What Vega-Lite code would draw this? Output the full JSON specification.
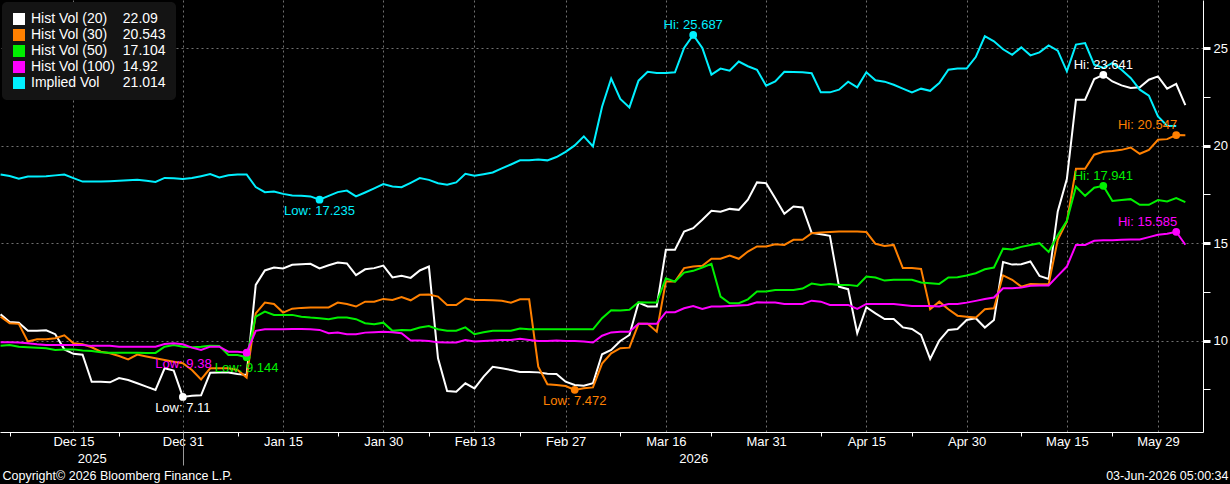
{
  "$schema": "https://vega.github.io/schema/vega-lite/v6.json",
  "width": 1203,
  "height": 432,
  "autosize": {"type": "none"},
  "padding": {"left": 0, "top": 0, "right": 27, "bottom": 52},
  "background": "#000000",
  "config": {
    "view": {"stroke": null},
    "font": "Liberation Sans",
    "axis": {"labelFont": "Liberation Sans", "titleFont": "Liberation Sans", "labelColor": "#ffffff", "titleColor": "#ffffff", "labelFontSize": 13},
    "legend": {"labelFont": "Liberation Sans"},
    "text": {"font": "Liberation Sans", "fontSize": 13}
  },
  "datasets": {
    "vol": [
      {"d":"2025-12-03","h20":11.35,"h30":11.23,"h50":9.74,"h100":9.91,"iv":18.53},
      {"d":"2025-12-04","h20":10.96,"h30":10.89,"h50":9.78,"h100":9.91,"iv":18.45},
      {"d":"2025-12-05","h20":10.92,"h30":10.86,"h50":9.69,"h100":9.90,"iv":18.31},
      {"d":"2025-12-08","h20":10.50,"h30":9.95,"h50":9.66,"h100":9.86,"iv":18.42},
      {"d":"2025-12-09","h20":10.50,"h30":10.07,"h50":9.64,"h100":9.81,"iv":18.42},
      {"d":"2025-12-10","h20":10.53,"h30":10.07,"h50":9.61,"h100":9.78,"iv":18.43},
      {"d":"2025-12-11","h20":10.33,"h30":10.12,"h50":9.52,"h100":9.78,"iv":18.48},
      {"d":"2025-12-12","h20":9.55,"h30":10.27,"h50":9.55,"h100":9.78,"iv":18.52},
      {"d":"2025-12-15","h20":9.32,"h30":9.86,"h50":9.55,"h100":9.78,"iv":18.34},
      {"d":"2025-12-16","h20":9.28,"h30":9.81,"h50":9.49,"h100":9.78,"iv":18.16},
      {"d":"2025-12-17","h20":7.89,"h30":9.66,"h50":9.47,"h100":9.73,"iv":18.17},
      {"d":"2025-12-18","h20":7.89,"h30":9.43,"h50":9.40,"h100":9.73,"iv":18.17},
      {"d":"2025-12-19","h20":7.86,"h30":9.35,"h50":9.38,"h100":9.73,"iv":18.18},
      {"d":"2025-12-22","h20":8.08,"h30":9.21,"h50":9.38,"h100":9.69,"iv":18.20},
      {"d":"2025-12-23","h20":7.98,"h30":9.04,"h50":9.38,"h100":9.69,"iv":18.23},
      {"d":"2025-12-24","h20":7.81,"h30":9.28,"h50":9.38,"h100":9.69,"iv":18.25},
      {"d":"2025-12-25","h20":7.64,"h30":9.18,"h50":9.37,"h100":9.69,"iv":18.20},
      {"d":"2025-12-26","h20":7.47,"h30":9.09,"h50":9.37,"h100":9.69,"iv":18.14},
      {"d":"2025-12-29","h20":8.58,"h30":9.01,"h50":9.69,"h100":9.83,"iv":18.35},
      {"d":"2025-12-30","h20":8.46,"h30":8.92,"h50":9.78,"h100":9.86,"iv":18.33},
      {"d":"2025-12-31","h20":7.11,"h30":8.84,"h50":9.69,"h100":9.81,"iv":18.29},
      {"d":"2026-01-01","h20":7.17,"h30":8.49,"h50":9.66,"h100":9.64,"iv":18.34},
      {"d":"2026-01-02","h20":7.19,"h30":8.01,"h50":9.69,"h100":9.52,"iv":18.44},
      {"d":"2026-01-05","h20":8.35,"h30":8.58,"h50":9.74,"h100":9.69,"iv":18.55},
      {"d":"2026-01-06","h20":8.36,"h30":8.58,"h50":9.73,"h100":9.69,"iv":18.37},
      {"d":"2026-01-07","h20":8.36,"h30":8.58,"h50":9.26,"h100":9.43,"iv":18.49},
      {"d":"2026-01-08","h20":8.29,"h30":8.49,"h50":9.26,"h100":9.43,"iv":18.53},
      {"d":"2026-01-09","h20":8.24,"h30":8.10,"h50":9.144,"h100":9.38,"iv":18.53},
      {"d":"2026-01-12","h20":12.86,"h30":11.40,"h50":11.23,"h100":10.50,"iv":17.88},
      {"d":"2026-01-13","h20":13.60,"h30":11.95,"h50":11.49,"h100":10.58,"iv":17.62},
      {"d":"2026-01-14","h20":13.75,"h30":11.88,"h50":11.32,"h100":10.58,"iv":17.65},
      {"d":"2026-01-15","h20":13.70,"h30":11.44,"h50":11.32,"h100":10.58,"iv":17.53},
      {"d":"2026-01-16","h20":13.89,"h30":11.64,"h50":11.32,"h100":10.60,"iv":17.45},
      {"d":"2026-01-19","h20":13.92,"h30":11.68,"h50":11.23,"h100":10.60,"iv":17.43},
      {"d":"2026-01-20","h20":13.94,"h30":11.70,"h50":11.18,"h100":10.58,"iv":17.40},
      {"d":"2026-01-21","h20":13.70,"h30":11.70,"h50":11.15,"h100":10.55,"iv":17.235},
      {"d":"2026-01-22","h20":13.87,"h30":11.70,"h50":11.10,"h100":10.38,"iv":17.43},
      {"d":"2026-01-23","h20":14.01,"h30":11.95,"h50":11.18,"h100":10.41,"iv":17.62},
      {"d":"2026-01-26","h20":13.96,"h30":11.88,"h50":11.18,"h100":10.33,"iv":17.70},
      {"d":"2026-01-27","h20":13.36,"h30":11.75,"h50":11.10,"h100":10.33,"iv":17.40},
      {"d":"2026-01-28","h20":13.66,"h30":12.00,"h50":10.89,"h100":10.41,"iv":17.60},
      {"d":"2026-01-29","h20":13.72,"h30":12.00,"h50":10.84,"h100":10.43,"iv":17.81},
      {"d":"2026-01-30","h20":13.85,"h30":12.14,"h50":10.92,"h100":10.46,"iv":18.03},
      {"d":"2026-02-02","h20":13.24,"h30":12.09,"h50":10.50,"h100":10.43,"iv":17.91},
      {"d":"2026-02-03","h20":13.33,"h30":12.24,"h50":10.55,"h100":10.38,"iv":17.87},
      {"d":"2026-02-04","h20":13.22,"h30":12.07,"h50":10.53,"h100":10.00,"iv":18.10},
      {"d":"2026-02-05","h20":13.60,"h30":12.35,"h50":10.67,"h100":10.00,"iv":18.34},
      {"d":"2026-02-06","h20":13.80,"h30":12.36,"h50":10.75,"h100":9.98,"iv":18.25},
      {"d":"2026-02-09","h20":9.09,"h30":12.26,"h50":10.58,"h100":9.91,"iv":18.08},
      {"d":"2026-02-10","h20":7.41,"h30":11.83,"h50":10.51,"h100":9.90,"iv":18.00},
      {"d":"2026-02-11","h20":7.38,"h30":11.83,"h50":10.51,"h100":9.90,"iv":18.12},
      {"d":"2026-02-12","h20":7.81,"h30":12.16,"h50":10.68,"h100":10.03,"iv":18.56},
      {"d":"2026-02-13","h20":7.55,"h30":12.09,"h50":10.33,"h100":9.95,"iv":18.46},
      {"d":"2026-02-16","h20":8.15,"h30":12.09,"h50":10.43,"h100":9.98,"iv":18.54},
      {"d":"2026-02-17","h20":8.66,"h30":12.07,"h50":10.51,"h100":10.00,"iv":18.63},
      {"d":"2026-02-18","h20":8.58,"h30":12.05,"h50":10.51,"h100":10.03,"iv":18.84},
      {"d":"2026-02-19","h20":8.49,"h30":11.95,"h50":10.51,"h100":10.03,"iv":19.04},
      {"d":"2026-02-20","h20":8.39,"h30":12.12,"h50":10.62,"h100":10.09,"iv":19.25},
      {"d":"2026-02-23","h20":8.39,"h30":12.12,"h50":10.58,"h100":10.03,"iv":19.25},
      {"d":"2026-02-24","h20":8.37,"h30":8.66,"h50":10.58,"h100":9.98,"iv":19.30},
      {"d":"2026-02-25","h20":8.30,"h30":7.76,"h50":10.58,"h100":9.98,"iv":19.25},
      {"d":"2026-02-26","h20":8.29,"h30":7.72,"h50":10.58,"h100":10.00,"iv":19.42},
      {"d":"2026-02-27","h20":7.89,"h30":7.67,"h50":10.58,"h100":9.98,"iv":19.69},
      {"d":"2026-03-02","h20":7.72,"h30":7.472,"h50":10.58,"h100":9.98,"iv":20.02},
      {"d":"2026-03-03","h20":7.69,"h30":7.55,"h50":10.58,"h100":9.95,"iv":20.48},
      {"d":"2026-03-04","h20":7.81,"h30":7.60,"h50":10.58,"h100":9.90,"iv":19.97},
      {"d":"2026-03-05","h20":9.30,"h30":8.82,"h50":11.15,"h100":10.25,"iv":22.00},
      {"d":"2026-03-06","h20":9.52,"h30":9.35,"h50":11.56,"h100":10.42,"iv":23.45},
      {"d":"2026-03-09","h20":9.98,"h30":9.61,"h50":11.54,"h100":10.45,"iv":22.40},
      {"d":"2026-03-10","h20":10.29,"h30":9.64,"h50":11.58,"h100":10.46,"iv":21.97},
      {"d":"2026-03-11","h20":11.95,"h30":10.86,"h50":11.97,"h100":10.86,"iv":23.34},
      {"d":"2026-03-12","h20":11.75,"h30":10.86,"h50":11.95,"h100":10.86,"iv":23.80},
      {"d":"2026-03-13","h20":11.75,"h30":10.46,"h50":11.95,"h100":10.86,"iv":23.73},
      {"d":"2026-03-16","h20":14.66,"h30":13.03,"h50":13.20,"h100":11.46,"iv":23.73},
      {"d":"2026-03-17","h20":14.66,"h30":13.03,"h50":13.03,"h100":11.46,"iv":23.77},
      {"d":"2026-03-18","h20":15.60,"h30":13.72,"h50":13.49,"h100":11.66,"iv":25.02},
      {"d":"2026-03-19","h20":15.77,"h30":13.80,"h50":13.58,"h100":11.78,"iv":25.687},
      {"d":"2026-03-20","h20":16.20,"h30":13.84,"h50":13.75,"h100":11.63,"iv":25.02},
      {"d":"2026-03-23","h20":16.66,"h30":14.20,"h50":13.94,"h100":11.75,"iv":23.65},
      {"d":"2026-03-24","h20":16.61,"h30":14.20,"h50":12.26,"h100":11.75,"iv":23.96},
      {"d":"2026-03-25","h20":16.76,"h30":14.37,"h50":11.92,"h100":11.78,"iv":23.85},
      {"d":"2026-03-26","h20":16.71,"h30":14.20,"h50":11.92,"h100":11.80,"iv":24.32},
      {"d":"2026-03-27","h20":17.23,"h30":14.57,"h50":12.12,"h100":11.83,"iv":24.08},
      {"d":"2026-03-30","h20":18.12,"h30":14.83,"h50":12.52,"h100":11.97,"iv":23.90},
      {"d":"2026-03-31","h20":18.08,"h30":14.83,"h50":12.52,"h100":11.95,"iv":23.08},
      {"d":"2026-04-01","h20":17.31,"h30":14.95,"h50":12.60,"h100":11.95,"iv":23.30},
      {"d":"2026-04-02","h20":16.51,"h30":14.91,"h50":12.60,"h100":11.88,"iv":23.80},
      {"d":"2026-04-03","h20":16.88,"h30":15.17,"h50":12.60,"h100":11.88,"iv":23.78},
      {"d":"2026-04-06","h20":16.83,"h30":15.17,"h50":12.67,"h100":11.88,"iv":23.77},
      {"d":"2026-04-07","h20":15.53,"h30":15.51,"h50":12.93,"h100":12.05,"iv":23.72},
      {"d":"2026-04-08","h20":15.46,"h30":15.55,"h50":12.86,"h100":12.00,"iv":22.74},
      {"d":"2026-04-09","h20":15.38,"h30":15.57,"h50":12.91,"h100":11.83,"iv":22.74},
      {"d":"2026-04-10","h20":12.77,"h30":15.60,"h50":12.86,"h100":11.83,"iv":22.88},
      {"d":"2026-04-13","h20":12.64,"h30":15.60,"h50":12.86,"h100":11.83,"iv":23.29},
      {"d":"2026-04-14","h20":10.38,"h30":15.60,"h50":12.80,"h100":11.63,"iv":23.00},
      {"d":"2026-04-15","h20":11.71,"h30":15.57,"h50":13.29,"h100":11.88,"iv":23.77},
      {"d":"2026-04-16","h20":11.40,"h30":14.97,"h50":13.24,"h100":11.88,"iv":23.36},
      {"d":"2026-04-17","h20":11.11,"h30":14.86,"h50":13.08,"h100":11.88,"iv":23.29},
      {"d":"2026-04-20","h20":11.11,"h30":14.91,"h50":13.12,"h100":11.88,"iv":23.13},
      {"d":"2026-04-21","h20":10.68,"h30":13.72,"h50":13.12,"h100":11.83,"iv":22.93},
      {"d":"2026-04-22","h20":10.60,"h30":13.72,"h50":13.12,"h100":11.78,"iv":22.74},
      {"d":"2026-04-23","h20":10.29,"h30":13.68,"h50":12.98,"h100":11.78,"iv":22.93},
      {"d":"2026-04-24","h20":9.06,"h30":11.61,"h50":12.95,"h100":11.78,"iv":22.82},
      {"d":"2026-04-27","h20":10.00,"h30":12.00,"h50":12.91,"h100":11.75,"iv":23.22},
      {"d":"2026-04-28","h20":10.55,"h30":11.61,"h50":13.24,"h100":11.88,"iv":23.90},
      {"d":"2026-04-29","h20":10.60,"h30":11.28,"h50":13.25,"h100":11.88,"iv":23.96},
      {"d":"2026-04-30","h20":11.06,"h30":11.23,"h50":13.34,"h100":11.95,"iv":23.96},
      {"d":"2026-05-01","h20":11.15,"h30":11.18,"h50":13.46,"h100":12.04,"iv":24.55},
      {"d":"2026-05-04","h20":10.67,"h30":11.61,"h50":13.66,"h100":12.14,"iv":25.62},
      {"d":"2026-05-05","h20":11.06,"h30":11.66,"h50":13.75,"h100":12.21,"iv":25.36},
      {"d":"2026-05-06","h20":14.03,"h30":13.35,"h50":14.72,"h100":12.69,"iv":24.95},
      {"d":"2026-05-07","h20":13.90,"h30":13.12,"h50":14.68,"h100":12.69,"iv":24.67},
      {"d":"2026-05-08","h20":13.92,"h30":12.77,"h50":14.81,"h100":12.72,"iv":25.05},
      {"d":"2026-05-11","h20":14.06,"h30":12.91,"h50":14.91,"h100":12.81,"iv":24.64},
      {"d":"2026-05-12","h20":13.32,"h30":12.89,"h50":15.00,"h100":12.83,"iv":24.79},
      {"d":"2026-05-13","h20":13.17,"h30":12.89,"h50":14.55,"h100":12.83,"iv":25.15},
      {"d":"2026-05-14","h20":16.63,"h30":15.17,"h50":15.41,"h100":13.32,"iv":24.88},
      {"d":"2026-05-15","h20":18.29,"h30":16.11,"h50":16.15,"h100":13.80,"iv":23.82},
      {"d":"2026-05-18","h20":22.36,"h30":18.82,"h50":17.90,"h100":14.91,"iv":25.19},
      {"d":"2026-05-19","h20":22.36,"h30":18.82,"h50":17.43,"h100":14.91,"iv":25.27},
      {"d":"2026-05-20","h20":23.42,"h30":19.54,"h50":17.85,"h100":15.12,"iv":24.16},
      {"d":"2026-05-21","h20":23.641,"h30":19.69,"h50":17.941,"h100":15.15,"iv":23.99},
      {"d":"2026-05-22","h20":23.30,"h30":19.73,"h50":17.17,"h100":15.15,"iv":24.25},
      {"d":"2026-05-25","h20":23.10,"h30":19.79,"h50":17.22,"h100":15.17,"iv":23.90},
      {"d":"2026-05-26","h20":22.96,"h30":19.91,"h50":17.26,"h100":15.19,"iv":23.48},
      {"d":"2026-05-27","h20":23.00,"h30":19.59,"h50":16.97,"h100":15.19,"iv":22.88},
      {"d":"2026-05-28","h20":23.39,"h30":19.79,"h50":16.97,"h100":15.31,"iv":22.57},
      {"d":"2026-05-29","h20":23.56,"h30":20.31,"h50":17.21,"h100":15.43,"iv":21.51},
      {"d":"2026-06-01","h20":22.93,"h30":20.34,"h50":17.14,"h100":15.48,"iv":21.03},
      {"d":"2026-06-02","h20":23.17,"h30":20.547,"h50":17.31,"h100":15.585,"iv":21.014},
      {"d":"2026-06-03","h20":22.09,"h30":20.543,"h50":17.104,"h100":14.92}
    ],
    "ann": [
      {"d":"2025-12-31","key":"h20","value":7.11,"label":"Low: 7.11","kind":"low"},
      {"d":"2026-01-09","key":"h50","value":9.144,"label":"Low: 9.144","kind":"low"},
      {"d":"2026-01-09","key":"h100","value":9.38,"label":"Low: 9.38","kind":"low"},
      {"d":"2026-01-21","key":"iv","value":17.235,"label":"Low: 17.235","kind":"low"},
      {"d":"2026-03-02","key":"h30","value":7.472,"label":"Low: 7.472","kind":"low"},
      {"d":"2026-03-19","key":"iv","value":25.687,"label":"Hi: 25.687","kind":"hi"},
      {"d":"2026-05-21","key":"h20","value":23.641,"label":"Hi: 23.641","kind":"hi"},
      {"d":"2026-06-02","key":"h30","value":20.547,"label":"Hi: 20.547","kind":"hi"},
      {"d":"2026-05-21","key":"h50","value":17.941,"label":"Hi: 17.941","kind":"hi"},
      {"d":"2026-06-02","key":"h100","value":15.585,"label":"Hi: 15.585","kind":"hi"}
    ]
  },
  "layer": [
    {
      "data": {"name": "vol"},
      "transform": [
        {"fold": ["h20", "h30", "h50", "h100", "iv"], "as": ["key", "value"]},
        {"filter": "isValid(datum.value)"}
      ],
      "mark": {"type": "line", "strokeWidth": 2, "interpolate": "linear"},
      "encoding": {
        "x": {
          "field": "d", "type": "ordinal",
          "scale": {"type": "point", "padding": 1.34, "align": 0.031},
          "axis": {
            "orient": "bottom", "offset": 0, "title": null,
            "values": ["2025-12-15","2025-12-31","2026-01-15","2026-01-30","2026-02-13","2026-02-27","2026-03-16","2026-03-31","2026-04-15","2026-04-30","2026-05-15","2026-05-29"],
            "labelExpr": "['Jan','Feb','Mar','Apr','May','Jun','Jul','Aug','Sep','Oct','Nov','Dec'][toNumber(substring(datum.value,5,7))-1] + ' ' + substring(datum.value,8,10)",
            "labelAngle": 0, "labelOverlap": false, "labelFlush": false, "labelPadding": 3,
            "ticks": false, "domain": true, "domainColor": "#ffffff", "domainWidth": 1,
            "grid": true, "gridColor": "#707070", "gridDash": [2, 3], "gridWidth": 1
          }
        },
        "y": {
          "field": "value", "type": "quantitative", "title": null,
          "scale": {"domain": [5.31, 27.48], "nice": false, "zero": false},
          "axis": {
            "orient": "right", "title": null,
            "values": [7.5, 10, 12.5, 15, 17.5, 20, 22.5, 25],
            "labelExpr": "datum.value % 5 == 0 ? datum.label : ''",
            "labelPadding": 3, "labelFontSize": 13,
            "tickSize": 7, "tickColor": "#ffffff",
            "tickWidth": {"condition": {"test": "datum.value % 5 == 0", "value": 3}, "value": 1},
            "domain": true, "domainColor": "#ffffff", "domainWidth": 1,
            "grid": true, "gridColor": "#707070", "gridDash": [2, 3], "gridWidth": 1,
            "gridOpacity": {"condition": {"test": "datum.value % 5 == 0", "value": 1}, "value": 0}
          }
        },
        "stroke": {
          "field": "key", "type": "nominal",
          "scale": {"range": ["#ff00ff", "#ffffff", "#ff8000", "#00f000", "#00f0ff"]},
          "legend": null
        }
      }
    },
    {
      "data": {"name": "ann"},
      "mark": {"type": "point", "filled": true, "shape": "circle", "size": 60, "opacity": 1},
      "encoding": {
        "x": {
          "field": "d", "type": "ordinal",
          "axis": {
            "orient": "bottom", "offset": 0,
            "values": ["2025-12-04","2025-12-22","2026-01-08","2026-01-23","2026-02-06","2026-02-20","2026-03-09","2026-03-23","2026-04-08","2026-04-22","2026-05-08","2026-05-22"],
            "labels": false, "ticks": true, "tickSize": 4, "tickColor": "#ffffff", "tickWidth": 1,
            "domain": false, "grid": false,
            "title": "Copyright© 2026 Bloomberg Finance L.P.",
            "titleFontSize": 12.5, "titleFontWeight": "normal", "titleColor": "#ffffff",
            "titleAnchor": "start", "titleAlign": "left", "titleBaseline": "middle",
            "titleX": 2, "titleY": 43
          }
        },
        "y": {"field": "value", "type": "quantitative", "title": null},
        "fill": {
          "field": "key", "type": "nominal",
          "scale": {"domain": ["h20", "h30", "h50", "h100", "iv"], "range": ["#ffffff", "#ff8000", "#00f000", "#ff00ff", "#00f0ff"]},
          "legend": {
            "orient": "top-left", "offset": 2, "title": null,
            "symbolType": "square", "symbolSize": 144, "symbolStrokeWidth": 0, "symbolOpacity": 1,
            "labelFontSize": 14, "labelColor": "#ffffff", "labelOffset": 5,
            "rowPadding": 2, "padding": 10, "fillColor": "#141414", "cornerRadius": 5,
            "labelExpr": "datum.label == 'h20' ? 'Hist Vol (20)\u00a0\u00a0\u00a0\u00a022.09' : datum.label == 'h30' ? 'Hist Vol (30)\u00a0\u00a0\u00a0\u00a020.543' : datum.label == 'h50' ? 'Hist Vol (50)\u00a0\u00a0\u00a0\u00a017.104' : datum.label == 'h100' ? 'Hist Vol (100)\u00a0\u00a014.92' : 'Implied Vol\u00a0\u00a0\u00a0\u00a0\u00a0\u00a021.014'"
          }
        }
      }
    },
    {
      "data": {"name": "ann"},
      "transform": [{"filter": "datum.kind == 'low' && datum.key != 'h100'"}],
      "mark": {"type": "text", "align": "center", "baseline": "middle", "dy": 11, "fontSize": 13},
      "encoding": {
        "x": {
          "field": "d", "type": "ordinal",
          "axis": {
            "orient": "bottom", "offset": 0,
            "values": ["2025-12-17", "2025-12-31", "2026-03-19"],
            "labelExpr": "datum.value == '2025-12-17' ? '2025' : datum.value == '2026-03-19' ? '2026' : ''",
            "labelAngle": 0, "labelOverlap": false, "labelFlush": false,
            "ticks": true, "tickSize": 33, "tickWidth": 1,
            "tickColor": {"condition": {"test": "datum.value == '2025-12-31'", "value": "#9a9a9a"}, "value": "transparent"},
            "labelPadding": -13,
            "domain": false, "grid": false,
            "title": "03-Jun-2026 05:00:34",
            "titleFontSize": 12.5, "titleFontWeight": "normal", "titleColor": "#ffffff",
            "titleAnchor": "start", "titleAlign": "right", "titleBaseline": "middle",
            "titleX": 1228, "titleY": 43
          }
        },
        "y": {"field": "value", "type": "quantitative", "title": null},
        "text": {"field": "label"},
        "color": {"field": "key", "type": "nominal", "scale": {"range": ["#ff00ff", "#ffffff", "#ff8000", "#00f000", "#00f0ff"]}, "legend": null}
      }
    },
    {
      "data": {"name": "ann"},
      "transform": [{"filter": "datum.kind == 'low' && datum.key == 'h100'"}],
      "mark": {"type": "text", "align": "right", "baseline": "middle", "dx": -35, "dy": 11, "fontSize": 13},
      "encoding": {
        "x": {"field": "d", "type": "ordinal", "axis": null},
        "y": {"field": "value", "type": "quantitative", "title": null},
        "text": {"field": "label"},
        "color": {"field": "key", "type": "nominal", "legend": null}
      }
    },
    {
      "data": {"name": "ann"},
      "transform": [{"filter": "datum.kind == 'hi' && (datum.key == 'iv' || datum.key == 'h20' || datum.key == 'h50')"}],
      "mark": {"type": "text", "align": "center", "baseline": "middle", "dy": -10, "fontSize": 13},
      "encoding": {
        "x": {"field": "d", "type": "ordinal", "axis": null},
        "y": {"field": "value", "type": "quantitative", "title": null},
        "text": {"field": "label"},
        "color": {"field": "key", "type": "nominal", "legend": null}
      }
    },
    {
      "data": {"name": "ann"},
      "transform": [{"filter": "datum.kind == 'hi' && (datum.key == 'h30' || datum.key == 'h100')"}],
      "mark": {"type": "text", "align": "right", "baseline": "middle", "dx": 1, "dy": -10, "fontSize": 13},
      "encoding": {
        "x": {"field": "d", "type": "ordinal", "axis": null},
        "y": {"field": "value", "type": "quantitative", "title": null},
        "text": {"field": "label"},
        "color": {"field": "key", "type": "nominal", "legend": null}
      }
    }
  ],
  "resolve": {"axis": {"x": "independent"}}
}
